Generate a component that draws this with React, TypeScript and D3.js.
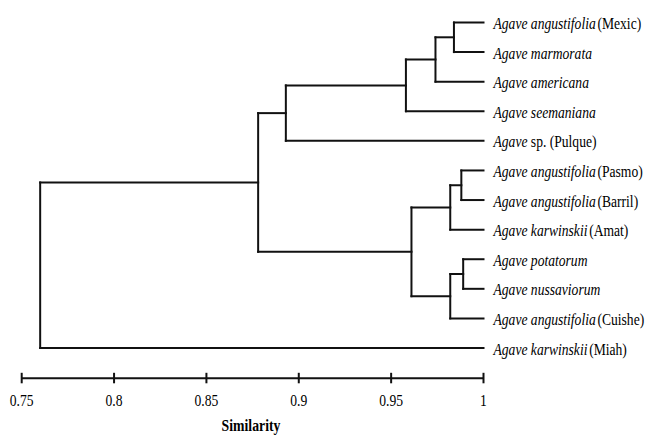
import React from 'react';
import * as d3 from 'd3';

// leaf order (top to bottom)
const genus = Array(12).fill('Agave');
const epithets = [
  'angustifolia', 'marmorata', 'americana', 'seemaniana', 'sp.',
  'angustifolia', 'angustifolia', 'karwinskii', 'potatorum', 'nussaviorum',
  'angustifolia', 'karwinskii',
];
const suffixes = ['(Mexic)', '', '', '', '(Pulque)', '(Pasmo)', '(Barril)', '(Amat)', '', '', '(Cuishe)', '(Miah)'];

// linkage: [childA, childB, similarity]; new node ids start at 12
const merges: [number, number, number][] = [
  [0, 1, 0.984],
  [12, 2, 0.974],
  [13, 3, 0.958],
  [14, 4, 0.893],
  [5, 6, 0.988],
  [16, 7, 0.982],
  [8, 9, 0.989],
  [18, 10, 0.982],
  [17, 19, 0.961],
  [15, 20, 0.878],
  [21, 11, 0.76],
];

const axisTicks = [0.75, 0.8, 0.85, 0.9, 0.95, 1];

const W = 645;
const H = 435;

export default function App() {
  const x = d3.scaleLinear().domain([0.75, 1]).range([21.7, 483.5]);
  const y = d3.scalePoint<number>().domain(d3.range(12)).range([22.5, 348]);
  const axisY = 378.3;

  // node positions
  const pos: { x: number; y: number }[] = d3.range(12).map(i => ({ x: x(1), y: y(i)! }));
  const links: { x1: number; y1: number; x2: number; y2: number }[] = [];
  merges.forEach(([a, b, s]) => {
    const pa = pos[a];
    const pb = pos[b];
    const nx = x(s);
    links.push({ x1: nx, y1: pa.y, x2: nx, y2: pb.y });
    links.push({ x1: nx, y1: pa.y, x2: pa.x, y2: pa.y });
    links.push({ x1: nx, y1: pb.y, x2: pb.x, y2: pb.y });
    pos.push({ x: nx, y: (pa.y + pb.y) / 2 });
  });

  const font = "'Liberation Serif', 'DejaVu Serif', serif";
  const stroke = '#111';

  return (
    <svg width={W} height={H} style={{ position: 'absolute', left: 0, top: 0, background: '#fff', fontFamily: font }}>
      <g stroke={stroke} strokeWidth={2} strokeLinecap="square">
        {links.map((l, i) => (
          <line key={i} x1={l.x1} y1={l.y1} x2={l.x2} y2={l.y2} />
        ))}
      </g>
      <g>
        {genus.map((g, i) => (
          <text key={i} transform={`translate(${x(1) + 10},${y(i)! + 6.5}) scale(0.85,1)`}
            fontSize={16} fill="#000">
            <tspan fontStyle="italic">{g} {epithets[i] === 'sp.' ? '' : epithets[i]}</tspan>
            {epithets[i] === 'sp.' ? <tspan>sp. </tspan> : null}
            {suffixes[i] ? <tspan dx={epithets[i] === 'sp.' ? 0 : 2}>{suffixes[i]}</tspan> : null}
          </text>
        ))}
      </g>
      <g stroke={stroke} strokeWidth={2}>
        <line x1={x(0.75)} x2={x(1)} y1={axisY} y2={axisY} />
        {axisTicks.map(t => (
          <line key={t} x1={x(t)} x2={x(t)} y1={axisY - 5.5} y2={axisY + 5} />
        ))}
      </g>
      <g>
        {axisTicks.map(t => (
          <text key={t} transform={`translate(${x(t)},406) scale(0.85,1)`} textAnchor="middle"
            fontSize={16} fill="#000">{d3.format('~g')(t)}</text>
        ))}
      </g>
      <text transform={`translate(251,431) scale(0.86,1)`} textAnchor="middle" fontSize={16}
        fontWeight="bold" fill="#000">Similarity</text>
    </svg>
  );
}
